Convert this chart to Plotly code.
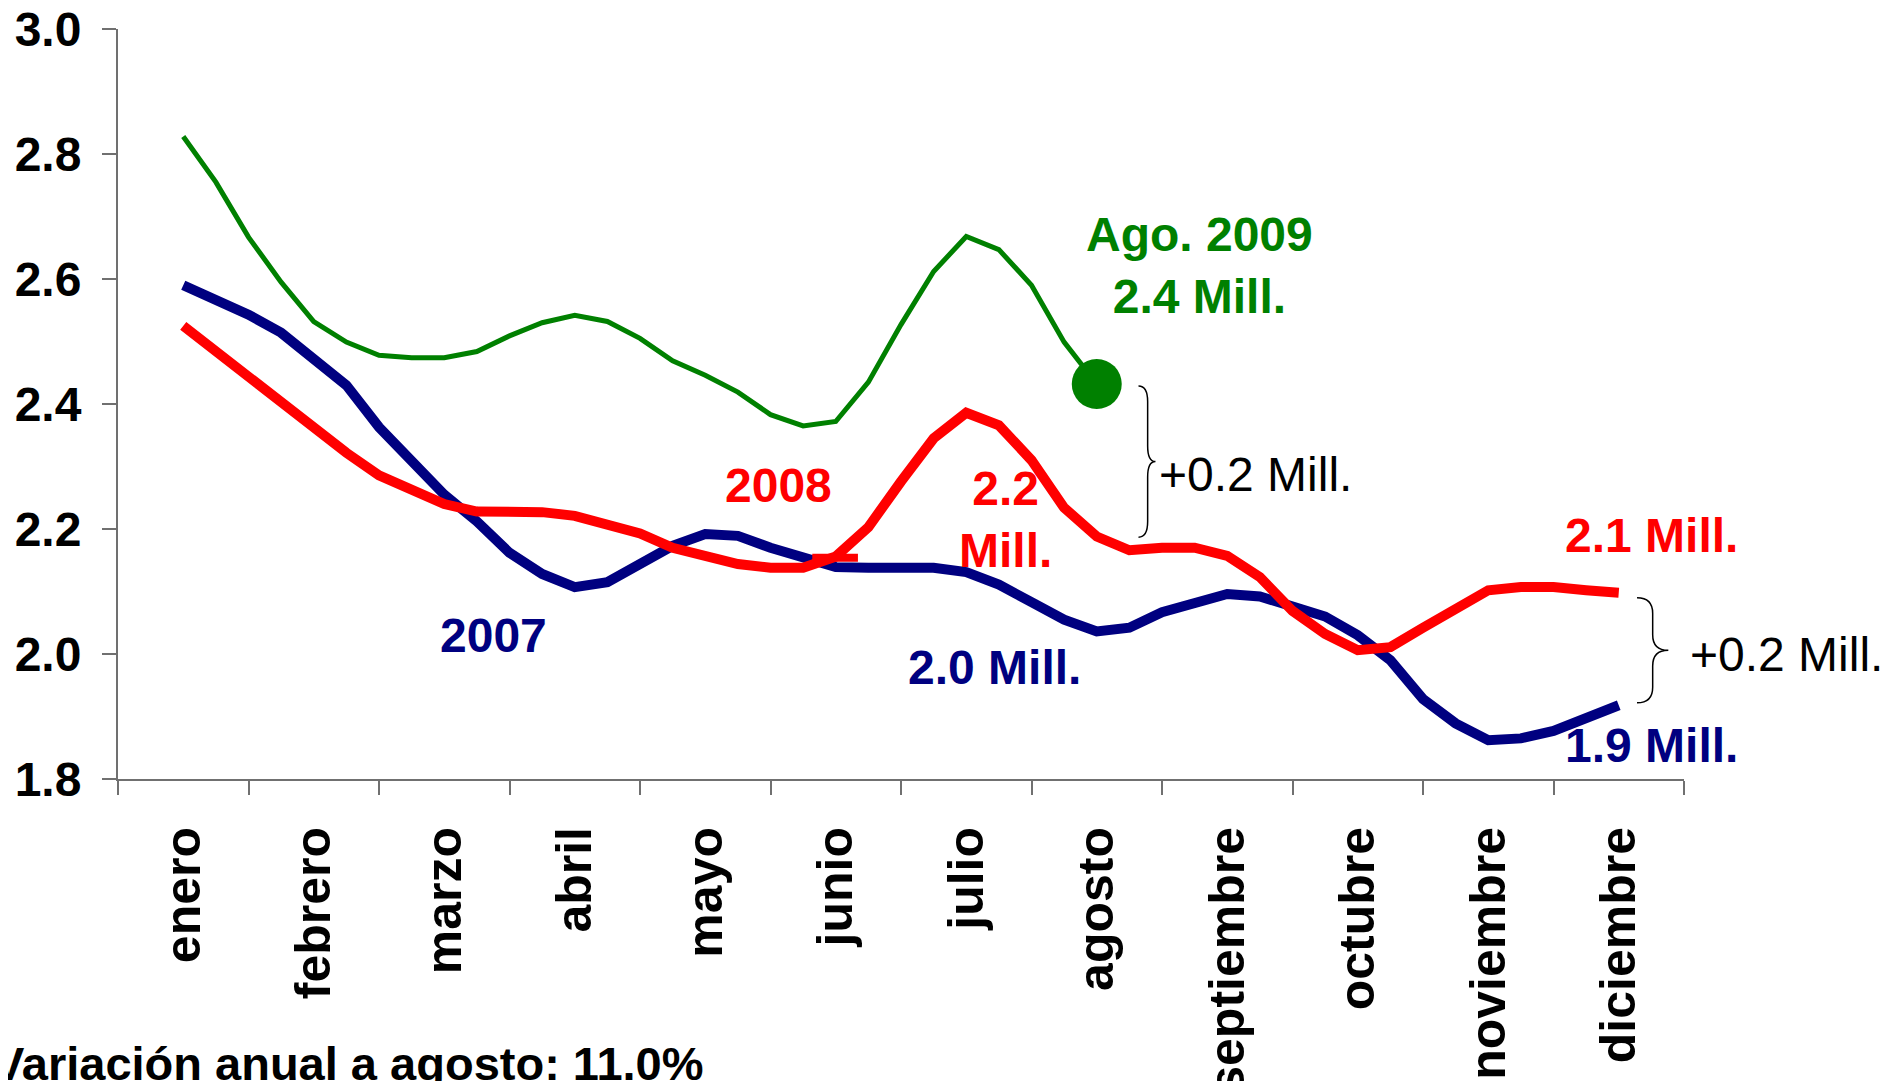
import plotly.graph_objects as go

# Meses (eje categórico) y posiciones semanales aproximadas (en unidades de mes)
meses = ["enero", "febrero", "marzo", "abril", "mayo", "junio", "julio",
         "agosto", "septiembre", "octubre", "noviembre", "diciembre"]

semanas = [0, 0.25, 0.5, 0.75, 1, 1.25, 1.5, 1.75, 2, 2.25, 2.5, 2.75,
           3, 3.25, 3.5, 3.75, 4, 4.25, 4.5, 4.75, 5, 5.25, 5.5, 5.75,
           6, 6.25, 6.5, 6.75, 7, 7.25, 7.5, 7.75, 8, 8.25, 8.5, 8.75,
           9, 9.25, 9.5, 9.75, 10, 10.25, 10.5, 10.75, 11]

# Millones de personas
serie_2007 = [2.590, 2.568, 2.543, 2.514, 2.474, 2.430, 2.363, 2.310, 2.255,
              2.212, 2.162, 2.128, 2.107, 2.115, 2.142, 2.173, 2.192, 2.189,
              2.170, 2.156, 2.139, 2.138, 2.138, 2.138, 2.131, 2.111, 2.083,
              2.055, 2.036, 2.042, 2.067, 2.083, 2.096, 2.092, 2.075, 2.060,
              2.030, 1.990, 1.928, 1.889, 1.862, 1.865, 1.877, 1.898, 1.918]

serie_2008 = [2.525, 2.484, 2.440, 2.400, 2.360, 2.322, 2.286, 2.262, 2.240,
              2.228, 2.227, 2.227, 2.221, 2.208, 2.193, 2.170, 2.157, 2.144,
              2.138, 2.138, 2.156, 2.203, 2.276, 2.345, 2.386, 2.366, 2.310,
              2.234, 2.188, 2.166, 2.170, 2.170, 2.157, 2.123, 2.069, 2.032,
              2.006, 2.011, 2.042, 2.074, 2.102, 2.107, 2.107, 2.102, 2.098]

serie_2009 = [2.828, 2.755, 2.667, 2.595, 2.532, 2.499, 2.478, 2.474, 2.474,
              2.484, 2.509, 2.530, 2.542, 2.532, 2.505, 2.469, 2.446, 2.419,
              2.383, 2.365, 2.372, 2.435, 2.527, 2.612, 2.668, 2.647, 2.590,
              2.499, 2.432]

# pequeña marca roja junto a junio
marca_x = [4.82, 5.17]
marca_y = [2.154, 2.154]

AZUL = "#000080"
ROJO = "#FF0000"
VERDE = "#008000"
GRIS = "#707070"
FUENTE = "Liberation Sans, Arial, sans-serif"

fig = go.Figure()
fig.add_trace(go.Scatter(x=semanas, y=serie_2007, mode="lines", name="2007",
                         line=dict(color=AZUL, width=10)))
fig.add_trace(go.Scatter(x=semanas, y=serie_2008, mode="lines", name="2008",
                         line=dict(color=ROJO, width=10)))
fig.add_trace(go.Scatter(x=marca_x, y=marca_y, mode="lines", name="marca",
                         line=dict(color=ROJO, width=8)))
fig.add_trace(go.Scatter(x=semanas[:len(serie_2009)], y=serie_2009, mode="lines",
                         name="2009", line=dict(color=VERDE, width=5)))
fig.add_trace(go.Scatter(x=[semanas[len(serie_2009) - 1]], y=[serie_2009[-1]],
                         mode="markers", name="Ago. 2009",
                         marker=dict(color=VERDE, size=50)))


def llave(x0, xs, xt, y_top, y_bot, dy):
    ym = (y_top + y_bot) / 2
    return (f"M {x0},{y_top} Q {xs},{y_top} {xs},{y_top - dy} "
            f"L {xs},{ym + dy} Q {xs},{ym} {xt},{ym} "
            f"Q {xs},{ym} {xs},{ym - dy} L {xs},{y_bot + dy} "
            f"Q {xs},{y_bot} {x0},{y_bot}")


fig.add_shape(type="path", xref="x", yref="y",
              path=llave(7.32, 7.39, 7.45, 2.429, 2.187, 0.025),
              line=dict(color="black", width=1.5))
fig.add_shape(type="path", xref="x", yref="y",
              path=llave(11.14, 11.26, 11.38, 2.090, 1.922, 0.025),
              line=dict(color="black", width=1.5))

etiquetas = [
    ("2007", 2.38, 2.030, AZUL, "bold"),
    ("2008", 4.56, 2.270, ROJO, "bold"),
    ("2.2<br>Mill.", 6.30, 2.215, ROJO, "bold"),
    ("Ago. 2009<br>2.4 Mill.", 7.79, 2.622, VERDE, "bold"),
    ("2.0 Mill.", 6.22, 1.979, AZUL, "bold"),
    ("2.1 Mill.", 11.25, 2.189, ROJO, "bold"),
    ("1.9 Mill.", 11.25, 1.854, AZUL, "bold"),
]
for texto, x, y, color, peso in etiquetas:
    fig.add_annotation(x=x, y=y, xref="x", yref="y", text=texto,
                       showarrow=False, xanchor="center", yanchor="middle",
                       font=dict(family=FUENTE, size=48, color=color, weight=peso))

# diferencias señaladas con llaves
fig.add_annotation(x=7.46, y=2.288, xref="x", yref="y", text="+0.2 Mill.",
                   showarrow=False, xanchor="left", yanchor="middle",
                   font=dict(family=FUENTE, size=48, color="black"))
fig.add_annotation(x=1.0026, y=2.000, xref="paper", yref="y", text="+0.2 Mill.",
                   showarrow=False, xanchor="left", yanchor="middle",
                   font=dict(family=FUENTE, size=48, color="black"))

fig.add_annotation(text="Variación anual a agosto: 11.0%",
                   xref="paper", yref="paper", x=-0.081, y=-0.379,
                   xanchor="left", yanchor="middle", showarrow=False,
                   font=dict(family=FUENTE, size=47, color="black", weight="bold"))

# la página añade 8 px de margen al cuerpo: se compensa en tamaño y márgenes
fig.update_layout(
    width=1882, height=1073,
    margin=dict(l=110, r=206, t=21, b=302, autoexpand=False),
    plot_bgcolor="white", paper_bgcolor="white",
    showlegend=False,
    font=dict(family=FUENTE, color="black"),
    xaxis=dict(
        range=[-0.5, 11.5], automargin=False,
        tickmode="array", tickvals=list(range(len(meses))), ticktext=meses,
        ticks="", tickangle=-90,
        tickfont=dict(family=FUENTE, size=50, color="black", weight="bold"),
        ticklabelstandoff=26, ticklabeloverflow="allow",
        minor=dict(tickmode="array",
                   tickvals=[i - 0.5 for i in range(len(meses) + 1)],
                   ticks="outside", ticklen=14, tickcolor=GRIS, tickwidth=1.5,
                   showgrid=False),
        showline=True, linecolor=GRIS, linewidth=2,
        showgrid=False, zeroline=False, fixedrange=True,
    ),
    yaxis=dict(
        range=[1.8, 3.0], dtick=0.2, tick0=1.8, tickformat=".1f", automargin=False,
        ticks="outside", ticklen=14, tickcolor=GRIS, tickwidth=1.5,
        tickfont=dict(family=FUENTE, size=48, color="black", weight="bold"),
        ticklabelstandoff=11, ticklabeloverflow="allow",
        showline=True, linecolor=GRIS, linewidth=2,
        showgrid=False, zeroline=False, fixedrange=True,
    ),
)

fig.write_html("out.html")
